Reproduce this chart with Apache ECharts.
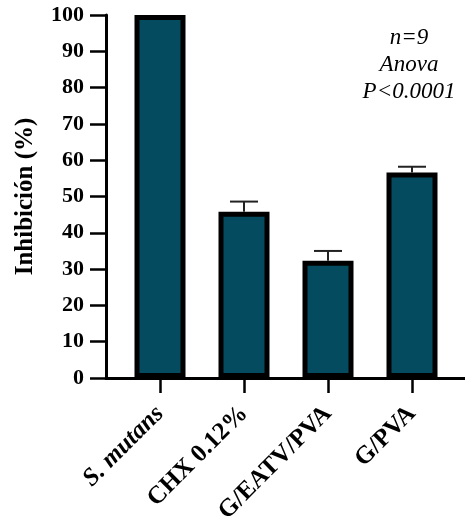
<!DOCTYPE html>
<html>
<head>
<meta charset="utf-8">
<script src="https://cdn.jsdelivr.net/npm/echarts@6/dist/echarts.min.js"></script>
<style>
  html, body { margin: 0; padding: 0; background: #fff; }
  #chart { width: 465px; height: 522px; }
</style>
</head>
<body>
<div id="chart"></div>
<script>
// Inhibition of S. mutans by each treatment (mean and upper SD)
const categories = ['S. mutans', 'CHX 0.12%', 'G/EATV/PVA', 'G/PVA'];
const inhibition = [100, 45.8, 32.3, 56.6];
const errorUpper = [0, 2.8, 2.7, 1.6];
const yTicks = { min: 0, max: 100, interval: 10 };
const statsNote = ['n=9', 'Anova', 'P<0.0001'];

const serif = '"Liberation Serif", "DejaVu Serif", serif';
const barColor = '#054B5F';

const chart = echarts.init(document.getElementById('chart'), null, { renderer: 'canvas' });

const errorData = inhibition.map((v, i) => [i, v, v + errorUpper[i]]);

const option = {
  animation: false,
  backgroundColor: '#ffffff',
  grid: [
    { left: 106, right: 0, top: 15, bottom: 144, containLabel: false, outerBoundsMode: 'none' },
    { left: 118, right: 11, top: 15, bottom: 144, containLabel: false, outerBoundsMode: 'none' }
  ],
  xAxis: [
    {
      gridIndex: 0,
      type: 'category',
      data: categories,
      axisLine: { show: true, lineStyle: { color: '#000', width: 3 } },
      axisTick: { show: false },
      axisLabel: { show: false },
      splitLine: { show: false }
    },
    {
      gridIndex: 1,
      type: 'category',
      data: categories,
      axisLine: { show: false },
      axisTick: {
        show: true, alignWithLabel: true, length: 15,
        lineStyle: { color: '#000', width: 2.5 }
      },
      axisLabel: {
        rotate: 45,
        margin: 32,
        color: '#000',
        fontFamily: serif,
        fontWeight: 'bold',
        fontSize: 25,
        formatter: (v, i) => (i === 0 ? '{it|' + v + '}' : v),
        rich: {
          it: { fontFamily: serif, fontWeight: 'bold', fontStyle: 'italic', fontSize: 25, color: '#000' }
        }
      },
      splitLine: { show: false }
    }
  ],
  yAxis: [
    {
      gridIndex: 0,
      type: 'value',
      min: yTicks.min,
      max: yTicks.max,
      interval: yTicks.interval,
      name: 'Inhibición (%)',
      nameLocation: 'middle',
      nameGap: 68,
      nameTextStyle: { fontFamily: serif, fontWeight: 'bold', fontSize: 25, color: '#000' },
      axisLine: { show: true, lineStyle: { color: '#000', width: 3 } },
      axisTick: { show: true, length: 16, lineStyle: { color: '#000', width: 2.5 } },
      axisLabel: { margin: 22, color: '#000', fontFamily: serif, fontWeight: 'bold', fontSize: 22 },
      splitLine: { show: false }
    },
    {
      gridIndex: 1,
      type: 'value',
      min: yTicks.min,
      max: yTicks.max,
      interval: yTicks.interval,
      show: false
    }
  ],
  series: [
    {
      type: 'bar',
      xAxisIndex: 1,
      yAxisIndex: 1,
      data: inhibition,
      barWidth: 51,
      itemStyle: { color: barColor, borderColor: '#000', borderWidth: 5 },
      z: 2
    },
    {
      type: 'custom',
      xAxisIndex: 1,
      yAxisIndex: 1,
      data: errorData,
      z: 3,
      renderItem: function (params, api) {
        const x = api.value(0);
        const top = api.coord([x, api.value(2)]);
        const base = api.coord([x, api.value(1)]);
        if (api.value(2) <= api.value(1)) return null;
        const half = 14;
        const style = { stroke: '#222', lineWidth: 2 };
        return {
          type: 'group',
          children: [
            { type: 'line', shape: { x1: top[0], y1: top[1], x2: base[0], y2: base[1] }, style: style },
            { type: 'line', shape: { x1: top[0] - half, y1: top[1], x2: top[0] + half, y2: top[1] }, style: style }
          ]
        };
      }
    }
  ],
  graphic: [
    {
      type: 'text',
      left: 360,
      top: 24,
      style: {
        text: statsNote.join('\n'),
        fill: '#000',
        font: 'italic 23px ' + serif,
        lineHeight: 27,
        textAlign: 'center',
        width: 98
      }
    }
  ]
};

chart.setOption(option);
</script>
</body>
</html>
